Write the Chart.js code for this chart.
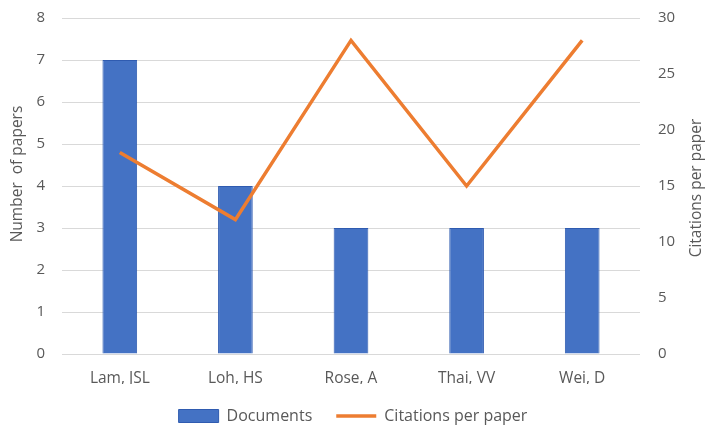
<!DOCTYPE html>
<html>
<head>
<meta charset="utf-8">
<script src="https://cdn.jsdelivr.net/npm/chart.js@4"></script>
<style>
html,body{margin:0;padding:0;background:#fff;}
#wrap{width:706px;height:429px;}
</style>
</head>
<body>
<div id="wrap"><canvas id="c" width="706" height="429"></canvas></div>
<script>
const categories = ["Lam, JSL", "Loh, HS", "Rose, A", "Thai, VV", "Wei, D"];
const documents = [7, 4, 3, 3, 3];
const citationsPerPaper = [18, 12, 28, 15, 28];
const leftTicks = [0, 1, 2, 3, 4, 5, 6, 7, 8];
const rightTicks = [0, 5, 10, 15, 20, 25, 30];
const leftTitle = 'Number  of papers';
const rightTitle = 'Citations per paper';

const FONT = "'Open Sans', 'Noto Sans', sans-serif";
const TXT = '#595959';

const axisTitles = {
  id: 'axisTitles',
  afterDraw(chart) {
    const { ctx, chartArea } = chart;
    const mid = (chartArea.top + chartArea.bottom) / 2;
    ctx.save();
    ctx.fillStyle = TXT;
    ctx.font = "15.5px " + FONT;
    ctx.textAlign = 'center';
    ctx.textBaseline = 'middle';
    ctx.save();
    ctx.translate(18, mid - 12);
    ctx.rotate(-Math.PI / 2);
    ctx.fillText(leftTitle, 0, 0);
    ctx.restore();
    ctx.save();
    ctx.translate(697, mid + 2);
    ctx.rotate(-Math.PI / 2);
    ctx.fillText(rightTitle, 0, 0);
    ctx.restore();
    ctx.restore();
  }
};

new Chart(document.getElementById('c'), {
  type: 'bar',
  data: {
    labels: categories,
    datasets: [
      {
        type: 'bar',
        label: 'Documents',
        data: documents,
        backgroundColor: '#4472C4',
        borderColor: '#2f5bb0',
        borderWidth: 1,
        barPercentage: 0.3,
        categoryPercentage: 1,
        yAxisID: 'y',
        order: 1,
        pointStyle: 'rect'
      },
      {
        type: 'line',
        label: 'Citations per paper',
        data: citationsPerPaper,
        borderColor: '#ED7D31',
        backgroundColor: '#ED7D31',
        borderWidth: 3.5,
        pointRadius: 0,
        tension: 0,
        yAxisID: 'y1',
        order: 0,
        pointStyle: 'line'
      }
    ]
  },
  plugins: [axisTitles],
  options: {
    responsive: false,
    animation: false,
    layout: { padding: { left: 0, right: 0, top: 18, bottom: -5 } },
    plugins: {
      tooltip: { enabled: false },
      legend: {
        position: 'bottom',
        labels: {
          usePointStyle: true,
          pointStyleWidth: 40,
          boxHeight: 13,
          color: TXT,
          font: { family: FONT, size: 16 },
          padding: 24,
          sort: (a, b) => a.datasetIndex - b.datasetIndex
        }
      }
    },
    scales: {
      x: {
        grid: { display: false, drawTicks: false },
        border: { display: false },
        ticks: { color: TXT, font: { family: FONT, size: 15.5 }, padding: 15 },
        afterFit: s => { s.height = 30; }
      },
      y: {
        position: 'left',
        min: 0, max: 8,
        afterBuildTicks: ax => { ax.ticks = leftTicks.map(v => ({ value: v })); },
        grid: { color: '#d9d9d9', lineWidth: 1, drawTicks: false },
        border: { display: false },
        ticks: { color: TXT, font: { family: FONT, size: 15 }, padding: 17 },
        afterFit: s => { s.width = 62; s.paddingTop = 0; s.paddingBottom = 0; }
      },
      y1: {
        position: 'right',
        min: 0, max: 30,
        afterBuildTicks: ax => { ax.ticks = rightTicks.map(v => ({ value: v })); },
        grid: { display: false, drawTicks: false },
        border: { display: false },
        ticks: { color: TXT, font: { family: FONT, size: 15 }, padding: 18 },
        afterFit: s => { s.width = 66; s.paddingTop = 0; s.paddingBottom = 0; }
      }
    }
  }
});
</script>
</body>
</html>
